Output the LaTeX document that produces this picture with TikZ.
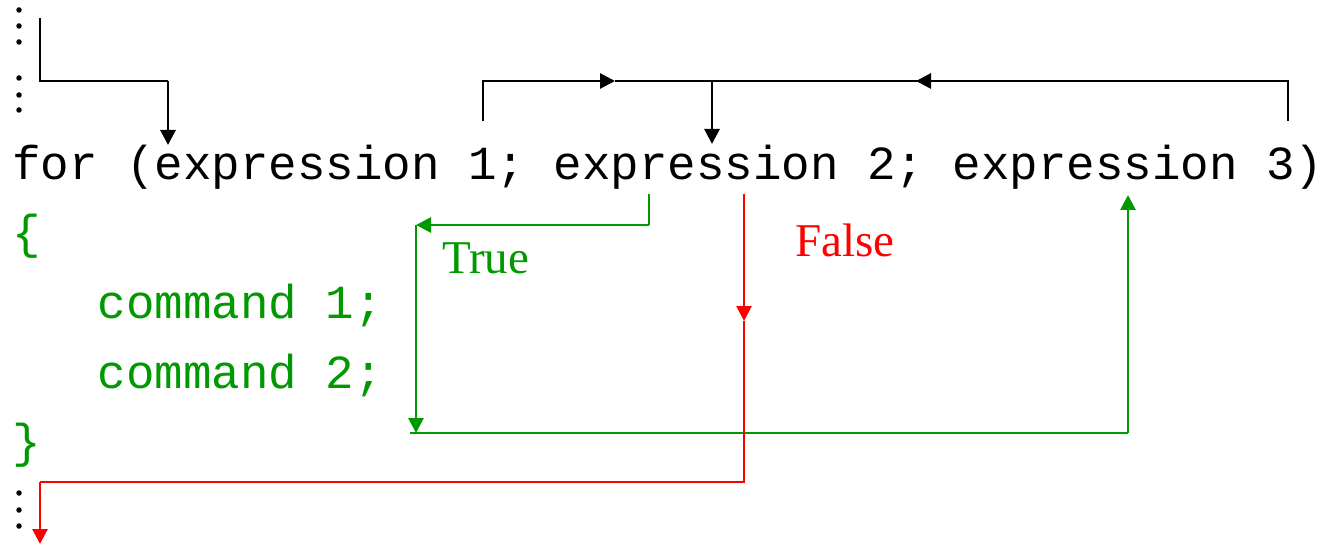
\documentclass[tikz,border=0pt]{standalone}
\usepackage{fontspec}
\setmainfont{Liberation Serif}
\setmonofont{Liberation Mono}
\usetikzlibrary{arrows.meta}
\definecolor{loopgreen}{RGB}{0,153,0}
\definecolor{loopred}{RGB}{255,0,0}
% one monospaced column, in pt
\newcommand{\colw}{28.5}
\begin{document}
\begin{tikzpicture}[x=1pt,y=-1pt,
  code/.style={anchor=base west,inner sep=0pt,font=\fontsize{47.5}{56}\selectfont\ttfamily},
  label/.style={anchor=base west,inner sep=0pt,font=\fontsize{47}{56}\selectfont},
  flow/.style={line width=2.8pt,-{Triangle[length=15pt,width=15pt]}},
  wire/.style={line width=2.8pt},
  dot/.style={circle,fill=black,inner sep=0pt,minimum size=5.5pt}]
\useasboundingbox (0,0) rectangle (1322,545);

% header line, one word per node on the character grid
\node[code] (kwFor) at (12+0*\colw,180) {for};
\node[code] (initA) at (12+4*\colw,180) {(expression};
\node[code] (initB) at (12+16*\colw,180) {1;};
\node[code] (condA) at (12+19*\colw,180) {expression};
\node[code] (condB) at (12+30*\colw,180) {2;};
\node[code] (stepA) at (12+33*\colw,180) {expression};
\node[code] (stepB) at (12+44*\colw,180) {3)};

% loop body
\node[code,text=loopgreen] (open) at (12,249) {\{};
\node[code,text=loopgreen] (cmdA) at (12+3*\colw,318) {command};
\node[code,text=loopgreen] (cmdAn) at (12+11*\colw,318) {1;};
\node[code,text=loopgreen] (cmdB) at (12+3*\colw,388) {command};
\node[code,text=loopgreen] (cmdBn) at (12+11*\colw,388) {2;};
\node[code,text=loopgreen] (close) at (12,457) {\}};

% branch labels
\node[label,text=loopgreen] (true) at (442,273) {True};
\node[label,text=loopred] (false) at (795,257) {False};

% vertical ellipses
\foreach \y [count=\i] in {10,26,42,78,95,110,493,510,526}
  \node[dot] (d\i) at (19,\y) {};

% entry into the loop
\coordinate (inTop) at (40,18);
\coordinate (inBend) at (40,81);
\coordinate (inCorner) at (168,81);
\coordinate (inTip) at (168,145);
\draw[wire] (inTop) -- (inBend) -- (inCorner);
\draw[flow] (inCorner) -- (inTip);

% init and update feed the condition
\coordinate (e1Foot) at (483,121);
\coordinate (e1Top) at (483,81);
\coordinate (e1Arrow) at (615,81);
\coordinate (e2Top) at (712,81);
\coordinate (e2Tip) at (712,144);
\coordinate (e3Top) at (1288,81);
\coordinate (e3Foot) at (1288,121);
\coordinate (e3Arrow) at (916,81);
\draw[flow] (e1Foot) -- (e1Top) -- (e1Arrow);
\draw[wire] (e1Arrow) -- (e3Top);
\draw[flow] (e3Foot) -- (e3Top) -- (e3Arrow);
\draw[flow] (e2Top) -- (e2Tip);

% true branch through the body
\coordinate (tStart) at (649,194);
\coordinate (tBend) at (649,225);
\coordinate (tLeft) at (416,225);
\coordinate (bodyEnd) at (416,433);
\coordinate (backL) at (410,433);
\coordinate (backR) at (1128,433);
\coordinate (e3Tip) at (1128,195);
\draw[wire,loopgreen] (tStart) -- (tBend);
\draw[flow,loopgreen] (tBend) -- (tLeft);
\draw[flow,loopgreen] (tLeft) -- (bodyEnd);
\draw[wire,loopgreen] (backL) -- (backR);
\draw[flow,loopgreen] (backR) -- (e3Tip);

% false branch leaves the loop
\coordinate (fStart) at (744,194);
\coordinate (fArrow) at (744,321);
\coordinate (fBend) at (744,482);
\coordinate (fLeft) at (40,482);
\coordinate (fTip) at (40,544);
\draw[flow,loopred] (fStart) -- (fArrow);
\draw[wire,loopred] (fArrow) -- (fBend) -- (fLeft);
\draw[flow,loopred] (fLeft) -- (fTip);
\end{tikzpicture}
\end{document}
